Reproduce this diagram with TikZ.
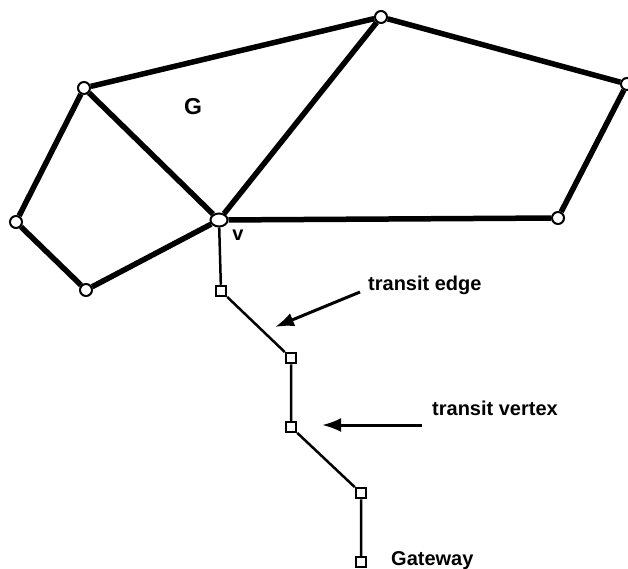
\documentclass[tikz,border=0pt]{standalone}
\usepackage{fontspec}
\setmainfont{Liberation Sans}
\usetikzlibrary{arrows.meta, shapes.geometric}

\begin{document}
\begin{tikzpicture}[x=1pt, y=-1pt,
    vtx/.style={circle, draw, fill=white, line width=2pt, inner sep=0pt, minimum size=12pt},
    tvtx/.style={rectangle, draw, fill=white, line width=2pt, inner sep=0pt, minimum size=10.5pt},
    thick edge/.style={line width=5.5pt},
    thin edge/.style={line width=2.5pt},
    pointer/.style={-{Latex[length=19pt, width=14pt]}, line width=3pt},
    lbl/.style={font=\bfseries\fontsize{20}{24}\selectfont, inner sep=0pt}]
    \useasboundingbox (0,0) rectangle (628,569);

            \node[vtx] (a) at (84,88) {};
            \node[vtx] (b) at (381,17) {};
            \node[vtx] (c) at (627,84) {};
            \node[vtx] (d) at (558,218) {};
            \node[vtx, ellipse, minimum width=17pt, minimum height=13pt] (v) at (219,220) {};
            \node[vtx] (e) at (16,222) {};
            \node[vtx] (f) at (86,290) {};

            \draw[thick edge] (a) -- (b) -- (c) -- (d) -- (v) -- (b);
            \draw[thick edge] (v) -- (a) -- (e) -- (f) -- (v);

            \node[lbl, font=\bfseries\fontsize{23}{26}\selectfont] (glabel) at (193,107) {G};
            \node[lbl] (vlabel) at (238,235) {v};

            \node[tvtx] (t1) at (221,291) {};
            \node[tvtx] (t2) at (291,358) {};
            \node[tvtx] (t3) at (291,427) {};
            \node[tvtx] (t4) at (361,493) {};
            \node[tvtx] (gw) at (361,562) {};

            \draw[thin edge] (v) -- (t1) -- (t2) -- (t3) -- (t4) -- (gw);

            \node[lbl, anchor=base west] (edgetext) at (368,290) {transit edge};
            \node[lbl, anchor=base west] (vertextext) at (432,415) {transit vertex};
            \node[lbl, anchor=base west] (gwtext) at (391,565) {Gateway};

            \coordinate (edgetail) at (360,292);
            \coordinate (edgetip) at (275,327);
            \coordinate (vertextail) at (422,425);
            \coordinate (vertextip) at (322,425);
            \draw[pointer] (edgetail) -- (edgetip);
            \draw[pointer] (vertextail) -- (vertextip);

\end{tikzpicture}
\end{document}
